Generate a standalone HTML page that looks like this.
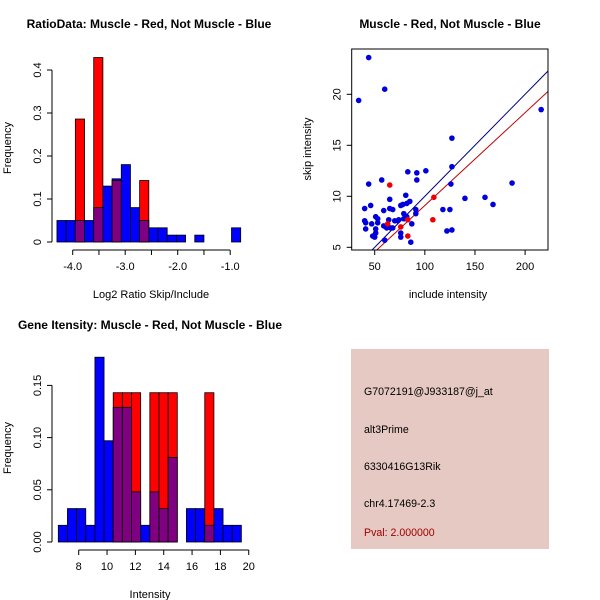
<!DOCTYPE html>
<html><head><meta charset="utf-8"><style>
html,body{margin:0;padding:0;background:#fff}
svg{display:block;font-family:"Liberation Sans",sans-serif}
</style></head><body>
<svg id="s" width="600" height="600" viewBox="0 0 600 600" xmlns="http://www.w3.org/2000/svg">
<rect x="351" y="349" width="198" height="200" fill="#E5C9C2"/>
<text x="364" y="395" font-size="10.6">G7072191@J933187@j_at</text>
<text x="364" y="433" font-size="10.6">alt3Prime</text>
<text x="364" y="470" font-size="10.6">6330416G13Rik</text>
<text x="364" y="507" font-size="10.6">chr4.17469-2.3</text>
<text x="364" y="536" font-size="10.6" fill="#A00000">Pval: 2.000000</text>
</svg>
<script>
// ratio histogram data
const ratioStart=-4.3, ratioWidth=0.175;
const ratioBlue=[0.05,0.05,0.05,0.05,0.08,0.13,0.147,0.18,0.08,0.05,0.033,0.033,0.016,0.016,0,0.016,0,0,0,0.033];
const ratioRed=[0,0,0.286,0,0.429,0,0.143,0,0,0.143,0,0,0,0,0,0,0,0,0,0];
const ratioYTicks=[0,0.1,0.2,0.3,0.4];
const ratioXTicks=[-4,-3.5,-3,-2.5,-2,-1.5,-1];
const ratioXLabels=["-4.0","","-3.0","","-2.0","","-1.0"];
// intensity histogram data
const intStart=6.56, intWidth=0.646;
const intBlue=[0.016,0.032,0.032,0.016,0.177,0.097,0.129,0.129,0.048,0.016,0.048,0.032,0.081,0,0.032,0.032,0.016,0.032,0.016,0.016];
const intRed=[0,0,0,0,0,0,0.143,0.143,0.143,0,0.143,0.143,0.143,0,0,0,0.143,0,0,0];
const intYTicks=[0,0.05,0.1,0.15];
const intYLabels=["0.00","0.05","0.10","0.15"];
const intXTicks=[8,10,12,14,16,18,20];
// scatter data
const blueX=[44,34,60,44,57,40,46,40,41,41,47,48,50,51,53,51,51,53,59,59,61,64,62,65,65,68,66,68,60,70,73,74,76,78,81,79,79,82,85,83,92,101,92,91,91,87,76,76,86,127,127,126,118,125,122,127,140,160,168,187,216,82];
const blueY=[23.6,19.4,20.5,11.2,11.6,8.8,9.1,7.6,7.4,6.8,7.3,6.1,6.0,8.0,7.8,6.8,6.4,7.4,8.6,7.1,7.0,7.7,6.9,9.7,8.8,8.7,6.9,6.9,5.7,7.6,7.6,7.7,9.1,9.2,10.1,8.3,7.8,9.3,9.5,12.4,12.3,12.5,11.6,8.7,8.3,7.3,6.4,6.0,5.5,15.7,12.9,11.2,8.7,8.7,6.6,6.7,9.8,9.9,9.2,11.3,18.5,8.0];
const redX=[65,63,76,83,83,109,108];
const redY=[11.1,7.3,7.0,7.7,6.1,9.9,7.7];
const lineSlopes=[0.1,0.091];
const scXTicks=[50,100,150,200];
const scYTicks=[5,10,15,20];

const S=document.getElementById('s');
const NS='http://www.w3.org/2000/svg';
function mk(tag,at,parent){const e=document.createElementNS(NS,tag);for(const k in at)e.setAttribute(k,at[k]);(parent||S).appendChild(e);return e;}
function txt(x,y,s,size,extra,parent){const e=mk('text',Object.assign({x:x,y:y,'font-size':size,'text-anchor':'middle'},extra||{}),parent);e.textContent=s;return e;}

function hist(opt){
  const g=mk('g',{});
  
  
  const X=v=>opt.x0+(v-opt.xv0)*opt.xs, Y=v=>opt.y0-v*opt.ys;
  for(let i=0;i<opt.blue.length;i++){
    const a=opt.start+i*opt.w, b=a+opt.w, bl=opt.blue[i], rd=opt.red[i];
    const hi=Math.max(bl,rd), lo=Math.min(bl,rd);
    if(hi<=0)continue;
    const r=mk('rect',{x:X(a),y:Y(hi),width:X(b)-X(a),height:Y(0)-Y(hi),fill:rd>bl?'#FF0000':'#0000FF',stroke:'#000','stroke-width':0.8},g);
    
    
    if(lo>0){
      const p=mk('rect',{x:X(a),y:Y(lo),width:X(b)-X(a),height:Y(0)-Y(lo),fill:'#7F0080',stroke:'#000','stroke-width':0.8},g);
      
      
    }
  }
  const yt=opt.yticks;
  mk('line',{x1:opt.yAxisX,x2:opt.yAxisX,y1:Y(yt[0]),y2:Y(yt[yt.length-1]),stroke:'#000'},g);
  yt.forEach((t,i)=>{mk('line',{x1:opt.yAxisX-5,x2:opt.yAxisX,y1:Y(t),y2:Y(t),stroke:'#000'},g);
    const tx=opt.yAxisX-11, ty=Y(t);
    txt(tx,ty,opt.ylabels?opt.ylabels[i]:String(t),11,{transform:`rotate(-90 ${tx} ${ty})`},g);});
  const xt=opt.xticks;
  mk('line',{x1:X(xt[0]),x2:X(xt[xt.length-1]),y1:opt.xAxisY,y2:opt.xAxisY,stroke:'#000'},g);
  xt.forEach((t,i)=>{mk('line',{x1:X(t),x2:X(t),y1:opt.xAxisY,y2:opt.xAxisY+5,stroke:'#000'},g);
    const l=opt.xlabels?opt.xlabels[i]:String(t); if(l)txt(X(t),opt.xAxisY+20,l,11,{},g);});
}
hist({name:'ratio-histogram',x0:72.7,xv0:-4,xs:52.5,y0:242,ys:430,start:ratioStart,w:ratioWidth,blue:ratioBlue,red:ratioRed,yticks:ratioYTicks,yAxisX:52,xticks:ratioXTicks,xlabels:ratioXLabels,xAxisY:250});
hist({name:'intensity-histogram',x0:78.7,xv0:8,xs:14.17,y0:542,ys:1044,start:intStart,w:intWidth,blue:intBlue,red:intRed,yticks:intYTicks,ylabels:intYLabels,yAxisX:52,xticks:intXTicks,xAxisY:550});

txt(149,28,'RatioData: Muscle - Red, Not Muscle - Blue',12,{'font-weight':'bold',});
txt(151,298,'Log2 Ratio Skip/Include',11,{});
txt(11,148,'Frequency',11,{transform:'rotate(-90 11 148)',});
txt(150,329,'Gene Itensity: Muscle - Red, Not Muscle - Blue',12,{'font-weight':'bold',});
txt(150,598,'Intensity',11,{});
txt(11,448,'Frequency',11,{transform:'rotate(-90 11 448)',});
txt(450,28,'Muscle - Red, Not Muscle - Blue',12,{'font-weight':'bold',});
txt(448,298,'include intensity',11,{});
txt(311,149,'skip intensity',11,{transform:'rotate(-90 311 149)',});

(function(){
  const L=351.7,R=548,T=49,B=250;
  const X=v=>374.7+(v-50)*1.0027, Y=v=>247.3-(v-5)*10.2;
  const g=mk('g',{});
  
  
  mk('defs',{},g).innerHTML=`<clipPath id="cp"><rect x="${L}" y="${T}" width="${R-L}" height="${B-T}"/></clipPath>`;
  const cols=['#000080','#C00000'];
  lineSlopes.forEach((m,i)=>{const ln=mk('line',{x1:X(0),y1:Y(0),x2:X(300),y2:Y(300*m),stroke:cols[i],'stroke-width':1,'clip-path':'url(#cp)'},g);
    
    });
  blueX.forEach((v,i)=>{const c=mk('circle',{cx:X(v),cy:Y(blueY[i]),r:2.8,fill:'#0000DD'},g);
    
    });
  redX.forEach((v,i)=>{const c=mk('circle',{cx:X(v),cy:Y(redY[i]),r:2.8,fill:'#EE0000'},g);
    
    });
  mk('rect',{x:L,y:T,width:R-L,height:B-T,fill:'none',stroke:'#000'},g);
  scXTicks.forEach(t=>{mk('line',{x1:X(t),x2:X(t),y1:B,y2:B+5,stroke:'#000'},g);txt(X(t),B+20,String(t),11,{},g);});
  scYTicks.forEach(t=>{mk('line',{x1:L-5,x2:L,y1:Y(t),y2:Y(t),stroke:'#000'},g);const tx=L-11;txt(tx,Y(t),String(t),11,{transform:`rotate(-90 ${tx} ${Y(t)})`},g);});
})();
</script>
</body></html>
